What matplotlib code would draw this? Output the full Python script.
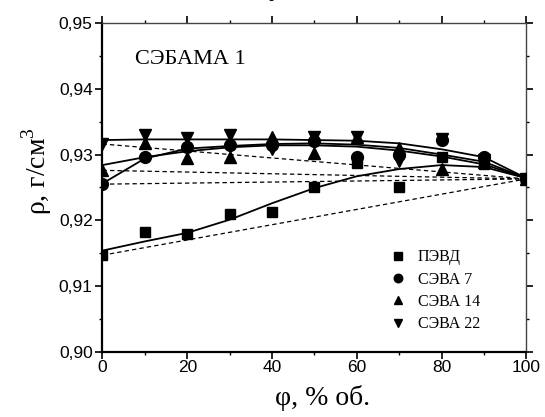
import matplotlib
matplotlib.use("Agg")
import matplotlib.pyplot as plt
from matplotlib.ticker import MultipleLocator

plt.rcParams['mathtext.fontset'] = 'custom'
plt.rcParams['mathtext.rm'] = 'Liberation Serif'

# data
phi = [0, 10, 20, 30, 40, 50, 60, 70, 80, 90, 100]

rho_pevd = [0.9147, 0.9183, 0.9180, 0.9210, 0.9212, 0.9250, 0.9287, 0.9250, 0.9296, 0.9286, 0.9263]
rho_seva7 = [0.9255, 0.9296, 0.9312, 0.9315, 0.9315, 0.9320, 0.9296, 0.9300, 0.9322, 0.9297, 0.9263]
rho_seva14 = [0.9276, 0.9318, 0.9294, 0.9297, 0.9326, 0.9303, 0.9326, 0.9310, 0.9278, 0.9288, 0.9263]
rho_seva22 = [0.9316, 0.9329, 0.9325, 0.9330, 0.9308, 0.9326, 0.9326, 0.9290, 0.9324, 0.9292, 0.9263]

# fitted curves (read at every 10 %)
fit_pevd = [0.9154, 0.9168, 0.9181, 0.9201, 0.9226, 0.9249, 0.9267, 0.9278, 0.9284, 0.9281, 0.9264]
fit_seva7 = [0.9256, 0.9294, 0.9309, 0.9313, 0.9316, 0.9317, 0.9315, 0.9310, 0.9300, 0.9289, 0.9264]
fit_seva14 = [0.9284, 0.9296, 0.9305, 0.9311, 0.9314, 0.9314, 0.9312, 0.9306, 0.9297, 0.9285, 0.9264]
fit_seva22 = [0.9322, 0.9323, 0.9323, 0.9323, 0.9323, 0.9322, 0.9321, 0.9317, 0.9308, 0.9296, 0.9264]

labels = ['ПЭВД', 'СЭВА 7', 'СЭВА 14', 'СЭВА 22']
markers = ['s', 'o', '^', 'v']
yticks = [0.90, 0.91, 0.92, 0.93, 0.94, 0.95]
ytick_labels = ['0,90', '0,91', '0,92', '0,93', '0,94', '0,95']
xticks = [0, 20, 40, 60, 80, 100]

series = [rho_pevd, rho_seva7, rho_seva14, rho_seva22]
fits = [fit_pevd, fit_seva7, fit_seva14, fit_seva22]

serif = 'Liberation Serif'
sans = 'Liberation Sans'

fig = plt.figure(figsize=(5.45, 4.17), dpi=100)
ax = fig.add_axes([0.188, 0.156, 0.778, 0.789])

# additive (straight) lines between pure components
for rho in series:
    ax.plot([phi[0], phi[-1]], [rho[0], rho[-1]], color='black', lw=0.9,
            ls=(0, (3.5, 2.5)), zorder=2)

for f in fits:
    ax.plot(phi, f, color='black', lw=1.3, zorder=3)

for rho, m, lab in zip(series, markers, labels):
    ms = 7.5 if m == 's' else 8.5
    ax.plot(phi, rho, ls='none', marker=m, ms=ms, color='black', label=lab,
            zorder=4)

ax.set_xlim(0, 100)
ax.set_ylim(0.90, 0.95)
ax.set_xticks(xticks)
ax.set_yticks(yticks)
ax.set_yticklabels(ytick_labels)
ax.xaxis.set_minor_locator(MultipleLocator(10))
ax.yaxis.set_minor_locator(MultipleLocator(0.005))

ax.tick_params(which='major', direction='out', length=5, width=1.2,
               labelsize=12.5, pad=2)
ax.tick_params(which='minor', direction='out', length=2.5, width=1)
ax.tick_params(top=True, right=True, which='both')
ax.tick_params(axis='x', which='major', pad=1)
for lab in ax.get_xticklabels() + ax.get_yticklabels():
    lab.set_family(sans)

for s in ['left', 'bottom']:
    ax.spines[s].set_linewidth(1.6)
for s in ['top', 'right']:
    ax.spines[s].set_linewidth(1.0)
    ax.spines[s].set_color('#444444')

ax.set_xlabel('φ, % об.', family=serif, fontsize=20, va='center')
ax.xaxis.set_label_coords(0.518, -0.14)
ax.set_ylabel(r'ρ, г/см$^{3}$', family=serif, fontsize=20, va='center')
ax.yaxis.set_label_coords(-0.155, 0.55)

ax.text(0.076, 0.888, 'СЭБАМА 1', transform=ax.transAxes, family=serif,
        fontsize=16, va='center', ha='left')

# descender of a cropped title letter at the very top
fig.text(0.505, 1.011, 'у', family=serif, fontsize=20, ha='center',
         va='baseline')

ax.legend(loc='upper left', bbox_to_anchor=(0.678, 0.312), frameon=False,
          prop={'family': serif, 'size': 11.5}, markerscale=0.72,
          handlelength=1.0, handletextpad=0.75, labelspacing=0.4,
          borderaxespad=0, borderpad=0)

fig.savefig('out.png', dpi=100)
